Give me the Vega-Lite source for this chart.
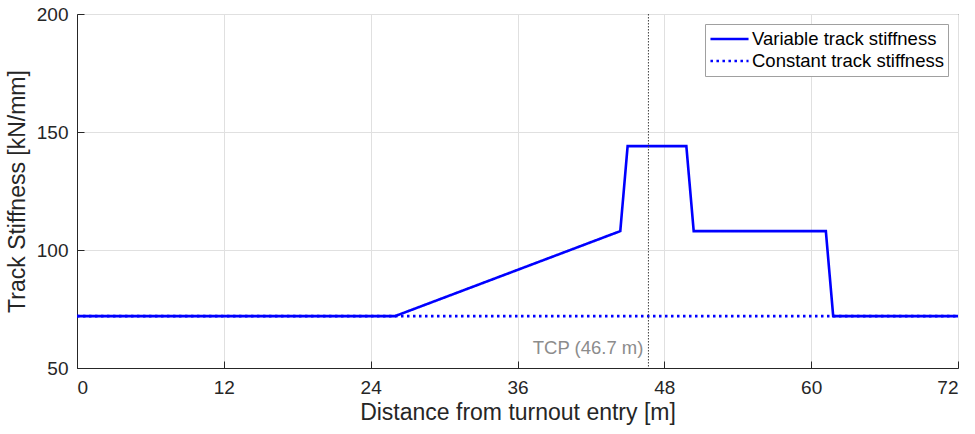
{
  "$schema": "https://vega.github.io/schema/vega-lite/v6.json",
  "width": 881,
  "height": 354,
  "autosize": {"type": "none"},
  "padding": {"left": 77, "top": 14, "right": 17, "bottom": 66},
  "background": "white",
  "config": {
    "font": "Liberation Sans",
    "view": {"stroke": "#262626", "strokeWidth": 1},
    "axis": {
      "grid": true,
      "gridColor": "#e0e0e0",
      "gridWidth": 1,
      "domainColor": "#262626",
      "tickColor": "#262626",
      "tickSize": -7,
      "labelColor": "#262626",
      "titleColor": "#262626",
      "labelFontSize": 19,
      "titleFontSize": 23,
      "titleFontWeight": "normal"
    },
    "legend": {
      "orient": "top-right",
      "offset": 10,
      "fillColor": "white",
      "strokeColor": "#a0a0a0",
      "padding": 4,
      "rowPadding": 0,
      "clipHeight": 22,
      "labelFontSize": 18.5,
      "labelLimit": 400,
      "labelColor": "#000000",
      "labelOffset": 2,
      "symbolType": "stroke",
      "symbolStrokeWidth": 2.5,
      "symbolSize": 1450,
      "symbolStrokeColor": "#0000ff"
    }
  },
  "datasets": {
    "stiffness": [
      {"series": "Variable track stiffness", "distance": 0, "stiffness": 72},
      {"series": "Variable track stiffness", "distance": 26, "stiffness": 72},
      {"series": "Variable track stiffness", "distance": 44.4, "stiffness": 108},
      {"series": "Variable track stiffness", "distance": 45.0, "stiffness": 144},
      {"series": "Variable track stiffness", "distance": 49.8, "stiffness": 144},
      {"series": "Variable track stiffness", "distance": 50.4, "stiffness": 108},
      {"series": "Variable track stiffness", "distance": 61.2, "stiffness": 108},
      {"series": "Variable track stiffness", "distance": 61.8, "stiffness": 72},
      {"series": "Variable track stiffness", "distance": 72, "stiffness": 72},
      {"series": "Constant track stiffness", "distance": 0, "stiffness": 72},
      {"series": "Constant track stiffness", "distance": 72, "stiffness": 72}
    ],
    "tcp": [
      {"label": "TCP (46.7 m)", "distance": 46.7, "stiffness": 58.5}
    ]
  },
  "layer": [
    {
      "data": {"name": "stiffness"},
      "mark": {"type": "line", "strokeWidth": 2.6, "clip": true},
      "encoding": {
        "x": {
          "field": "distance",
          "type": "quantitative",
          "title": "Distance from turnout entry [m]",
          "scale": {"domain": [0, 72], "nice": false},
          "axis": {"values": [0, 12, 24, 36, 48, 60, 72], "labelPadding": 17, "titlePadding": 4}
        },
        "y": {
          "field": "stiffness",
          "type": "quantitative",
          "title": "Track Stiffness [kN/mm]",
          "scale": {"domain": [50, 200], "nice": false, "zero": false},
          "axis": {"values": [50, 100, 150, 200], "labelPadding": 16, "titlePadding": 7}
        },
        "color": {
          "field": "series",
          "type": "nominal",
          "sort": ["Variable track stiffness", "Constant track stiffness"],
          "scale": {"domain": ["Variable track stiffness", "Constant track stiffness"], "range": ["#0000ff", "#0000ff"]},
          "legend": {"title": null}
        },
        "strokeDash": {
          "field": "series",
          "type": "nominal",
          "sort": ["Variable track stiffness", "Constant track stiffness"],
          "scale": {"domain": ["Variable track stiffness", "Constant track stiffness"], "range": [[1, 0], [2.5, 3.5]]},
          "legend": {"title": null}
        },
        "order": {"field": "series", "sort": "ascending"}
      }
    },
    {
      "data": {"name": "tcp"},
      "mark": {"type": "rule", "color": "#404040", "strokeWidth": 1, "strokeDash": [1.5, 1.5]},
      "encoding": {
        "x": {"field": "distance", "type": "quantitative"}
      }
    },
    {
      "data": {"name": "tcp"},
      "mark": {"type": "text", "align": "right", "baseline": "middle", "dx": -5, "fontSize": 18.5, "color": "#8c8c8c"},
      "encoding": {
        "x": {"field": "distance", "type": "quantitative"},
        "y": {"field": "stiffness", "type": "quantitative"},
        "text": {"field": "label"}
      }
    }
  ]
}
